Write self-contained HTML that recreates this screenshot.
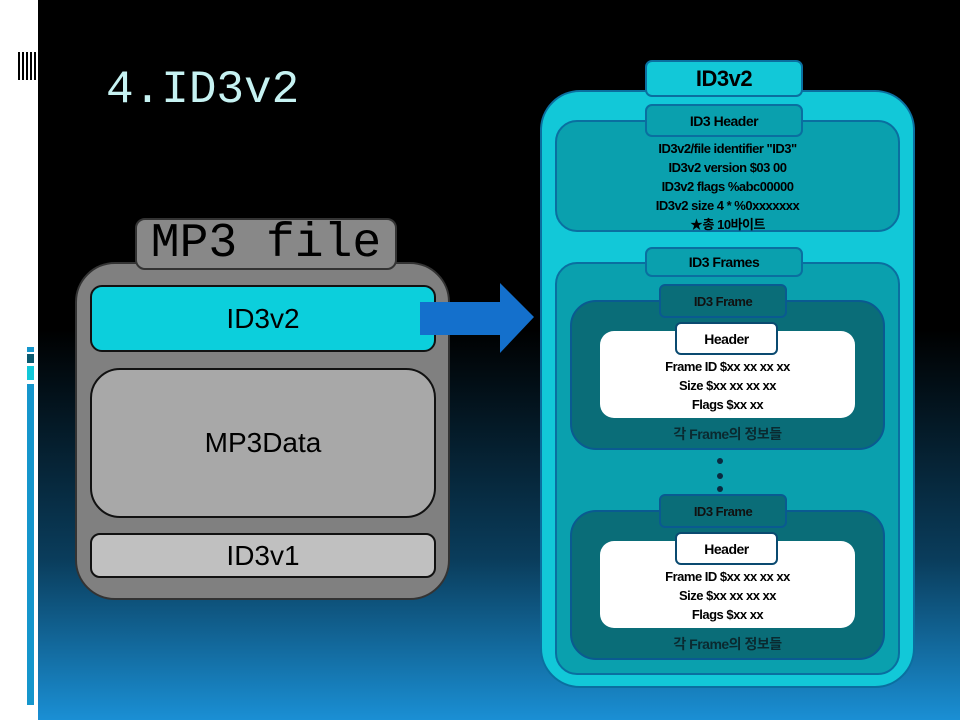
<!DOCTYPE html>
<html><head><meta charset="utf-8"><style>
*{margin:0;padding:0;box-sizing:border-box}
body{width:960px;height:720px;overflow:hidden;position:relative;background:linear-gradient(to bottom,#000 0px,#000 330px,#0a3d5c 560px,#1a8fd4 720px);font-family:"Liberation Sans","Noto Sans CJK KR",sans-serif}
.a{position:absolute}
.c{display:flex;align-items:center;justify-content:center;text-align:center}
.t{font-family:"Liberation Sans","Noto Sans CJK KR",sans-serif;color:#000;font-weight:bold;letter-spacing:-0.5px}
</style></head><body>
<div class="a" style="left:0;top:0;width:38px;height:720px;background:#fff"></div>
<div class="a" style="left:18px;top:52px;width:20px;height:28px;background:repeating-linear-gradient(to right,#000 0 2px,#fff 2px 4px)"></div>
<div class="a" style="left:27px;top:347px;width:7px;height:5px;background:#1596cc"></div>
<div class="a" style="left:27px;top:354px;width:7px;height:9px;background:#0a5a70"></div>
<div class="a" style="left:27px;top:366px;width:7px;height:14px;background:#12c8d8"></div>
<div class="a" style="left:27px;top:384px;width:7px;height:321px;background:#1596cc"></div>

<div class="a" style="left:106px;top:64px;font-family:'Liberation Mono',monospace;font-size:46px;color:#c6f2f2">4.ID3v2</div>

<!-- MP3 file -->
<div class="a" style="left:75px;top:262px;width:375px;height:338px;background:#808080;border:2px solid #333;border-radius:40px"></div>
<div class="a c" style="left:135px;top:218px;width:262px;height:52px;background:#888;border:2px solid #333;border-radius:10px;font-family:'Liberation Mono',monospace;font-size:48px;color:#000">MP3 file</div>
<div class="a c" style="left:90px;top:285px;width:346px;height:67px;background:#0ccfdc;border:2px solid #111;border-radius:12px;font-size:28px;color:#000">ID3v2</div>
<div class="a c" style="left:90px;top:368px;width:346px;height:150px;background:#a8a8a8;border:2px solid #111;border-radius:30px;font-size:28px;color:#000">MP3Data</div>
<div class="a c" style="left:90px;top:533px;width:346px;height:45px;background:#c0c0c0;border:2px solid #111;border-radius:10px;font-size:28px;color:#000">ID3v1</div>
<svg class="a" style="left:418px;top:280px" width="120" height="76"><polygon points="2,22 82,22 82,3 116,37 82,73 82,55 2,55" fill="#1470cc"/></svg>

<!-- right -->
<div class="a" style="left:540px;top:90px;width:375px;height:598px;background:#12c8d8;border:2px solid #0a6fa0;border-radius:40px"></div>
<div class="a c t" style="left:645px;top:60px;width:158px;height:37px;background:#12c8d8;border:2px solid #0a6fa0;border-radius:7px;font-size:22px">ID3v2</div>

<div class="a" style="left:555px;top:120px;width:345px;height:112px;background:#0aa0ae;border:2px solid #0a6fa0;border-radius:22px"></div>
<div class="a c t" style="left:645px;top:104px;width:158px;height:33px;background:#0aa0ae;border:2px solid #0a6fa0;border-radius:7px;font-size:14px">ID3 Header</div>
<div class="a t" style="left:555px;top:139px;width:345px;text-align:center;font-size:13px;line-height:19px">ID3v2/file identifier "ID3"<br>ID3v2 version $03 00<br>ID3v2 flags %abc00000<br>ID3v2 size 4 * %0xxxxxxx<br>★총 10바이트</div>

<div class="a" style="left:555px;top:262px;width:345px;height:413px;background:#0aa0ae;border:2px solid #0a6fa0;border-radius:22px"></div>
<div class="a c t" style="left:645px;top:247px;width:158px;height:30px;background:#0aa0ae;border:2px solid #0a6fa0;border-radius:7px;font-size:14px">ID3 Frames</div>

<!-- frame 1 -->
<div class="a" style="left:570px;top:300px;width:315px;height:150px;background:#0a6d78;border:2px solid #0a5a90;border-radius:26px"></div>
<div class="a c t" style="left:659px;top:284px;width:128px;height:34px;background:#0a6d78;border:2px solid #0a5a90;border-radius:6px;font-size:13px;color:#111">ID3 Frame</div>
<div class="a" style="left:600px;top:331px;width:255px;height:87px;background:#fff;border-radius:14px"></div>
<div class="a c t" style="left:675px;top:322px;width:103px;height:33px;background:#fff;border:2px solid #0a4a70;border-radius:6px;font-size:14px">Header</div>
<div class="a t" style="left:600px;top:357px;width:255px;text-align:center;font-size:13px;line-height:19px">Frame ID $xx xx xx xx<br>Size $xx xx xx xx<br>Flags $xx xx</div>
<div class="a t" style="left:570px;top:424px;width:315px;text-align:center;font-size:14px;color:#0a2a30">각 Frame의 정보들</div>

<div class="a" style="left:717px;top:458px;width:6px;height:6px;border-radius:50%;background:#0a2a40"></div>
<div class="a" style="left:717px;top:473px;width:6px;height:6px;border-radius:50%;background:#0a2a40"></div>
<div class="a" style="left:717px;top:486px;width:6px;height:6px;border-radius:50%;background:#0a2a40"></div>

<!-- frame 2 -->
<div class="a" style="left:570px;top:510px;width:315px;height:150px;background:#0a6d78;border:2px solid #0a5a90;border-radius:26px"></div>
<div class="a c t" style="left:659px;top:494px;width:128px;height:34px;background:#0a6d78;border:2px solid #0a5a90;border-radius:6px;font-size:13px;color:#111">ID3 Frame</div>
<div class="a" style="left:600px;top:541px;width:255px;height:87px;background:#fff;border-radius:14px"></div>
<div class="a c t" style="left:675px;top:532px;width:103px;height:33px;background:#fff;border:2px solid #0a4a70;border-radius:6px;font-size:14px">Header</div>
<div class="a t" style="left:600px;top:567px;width:255px;text-align:center;font-size:13px;line-height:19px">Frame ID $xx xx xx xx<br>Size $xx xx xx xx<br>Flags $xx xx</div>
<div class="a t" style="left:570px;top:634px;width:315px;text-align:center;font-size:14px;color:#0a2a30">각 Frame의 정보들</div>
</body></html>
